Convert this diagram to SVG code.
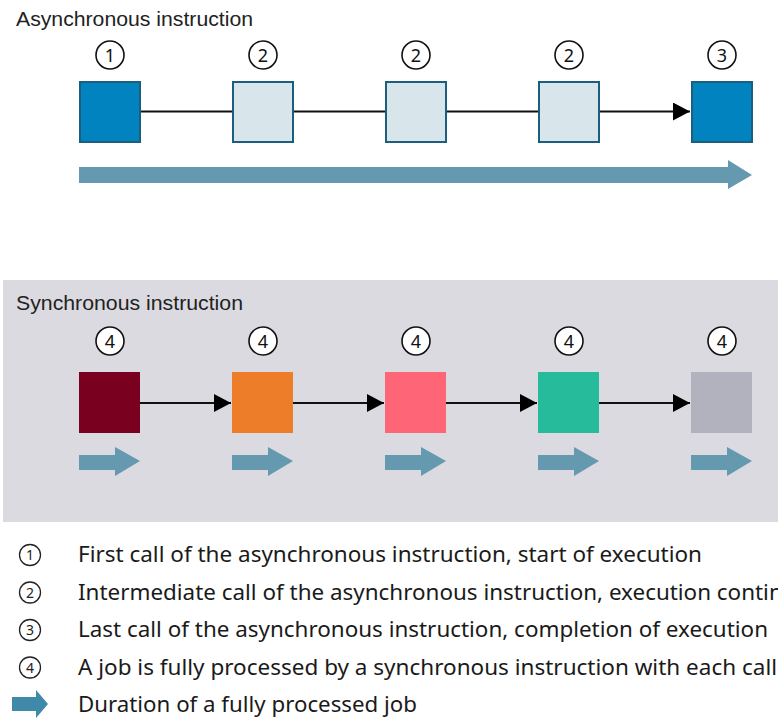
<svg xmlns="http://www.w3.org/2000/svg" width="778" height="718" viewBox="0 0 778 718">
<style>
.title{font-family:"Liberation Sans",Arial,sans-serif;font-size:19.5px;fill:#222}
.num{font-family:"Noto Sans","Open Sans",sans-serif;font-size:18px;fill:#111;text-anchor:middle}
.ncirc{fill:#fff;stroke:#111;stroke-width:1.6}
.lnum{fill:#fff;stroke:#222;stroke-width:1.3}
.lnumt{font-family:"Noto Sans","Open Sans",sans-serif;font-size:14px;fill:#222;text-anchor:middle}
.leg{font-family:"Noto Sans","Open Sans",sans-serif;font-size:21px;fill:#1a1a1a}
.conn{stroke:#111;stroke-width:2;fill:none}
.dark{fill:#0083bf;stroke:#1b5e7e;stroke-width:2}
.light{fill:#d8e5eb;stroke:#1b5e7e;stroke-width:2}
.dur{fill:#6499b0}
</style>
<defs>
<marker id="ah" markerWidth="17" markerHeight="18" refX="17" refY="9" orient="auto" markerUnits="userSpaceOnUse">
<path d="M0,0 L17,9 L0,18 Z" fill="#000"/>
</marker>
</defs>
<rect x="0" y="0" width="778" height="718" fill="#fff"/>
<rect id="sync-panel" x="3" y="280" width="775" height="242" fill="#dadae0"/>

<text class="title" x="16" y="26" textLength="237" lengthAdjust="spacingAndGlyphs">Asynchronous instruction</text>
<text class="title" x="16" y="310" textLength="227" lengthAdjust="spacingAndGlyphs">Synchronous instruction</text>

<g id="connectors">
<line class="conn" x1="140" y1="111.5" x2="232" y2="111.5"/>
<line class="conn" x1="293" y1="111.5" x2="385" y2="111.5"/>
<line class="conn" x1="446" y1="111.5" x2="538" y2="111.5"/>
<line class="conn" x1="599" y1="111.5" x2="690" y2="111.5" marker-end="url(#ah)"/>
<line class="conn" x1="140" y1="403" x2="231" y2="403" marker-end="url(#ah)"/>
<line class="conn" x1="293" y1="403" x2="384" y2="403" marker-end="url(#ah)"/>
<line class="conn" x1="446" y1="403" x2="537" y2="403" marker-end="url(#ah)"/>
<line class="conn" x1="599" y1="403" x2="690" y2="403" marker-end="url(#ah)"/>
</g>

<g id="a1"><circle class="ncirc" cx="110" cy="55" r="14"/><text class="num" x="110" y="61.5">1</text><rect class="dark" x="80" y="82" width="60" height="60"/></g>
<g id="a2"><circle class="ncirc" cx="263" cy="55" r="14"/><text class="num" x="263" y="61.5">2</text><rect class="light" x="233" y="82" width="60" height="60"/></g>
<g id="a3"><circle class="ncirc" cx="416" cy="55" r="14"/><text class="num" x="416" y="61.5">2</text><rect class="light" x="386" y="82" width="60" height="60"/></g>
<g id="a4"><circle class="ncirc" cx="569" cy="55" r="14"/><text class="num" x="569" y="61.5">2</text><rect class="light" x="539" y="82" width="60" height="60"/></g>
<g id="a5"><circle class="ncirc" cx="722" cy="55" r="14"/><text class="num" x="722" y="61.5">3</text><rect class="dark" x="692" y="82" width="60" height="60"/></g>
<g id="async-duration"><path class="dur" d="M79,167 H728 V160 L752,175 L728,189 V183 H79 Z"/></g>

<g id="s1"><circle class="ncirc" cx="110" cy="341" r="14"/><text class="num" x="110" y="347.5">4</text><rect x="79" y="372" width="61" height="61" fill="#7a0020"/><path class="dur" d="M79,455 H115 V447 L140,461 L115,476 V470 H79 Z"/></g>
<g id="s2"><circle class="ncirc" cx="263" cy="341" r="14"/><text class="num" x="263" y="347.5">4</text><rect x="232" y="372" width="61" height="61" fill="#ee7d2a"/><path class="dur" d="M232,455 H268 V447 L293,461 L268,476 V470 H232 Z"/></g>
<g id="s3"><circle class="ncirc" cx="416" cy="341" r="14"/><text class="num" x="416" y="347.5">4</text><rect x="385" y="372" width="61" height="61" fill="#fe6677"/><path class="dur" d="M385,455 H421 V447 L446,461 L421,476 V470 H385 Z"/></g>
<g id="s4"><circle class="ncirc" cx="569" cy="341" r="14"/><text class="num" x="569" y="347.5">4</text><rect x="538" y="372" width="61" height="61" fill="#25bb9b"/><path class="dur" d="M538,455 H574 V447 L599,461 L574,476 V470 H538 Z"/></g>
<g id="s5"><circle class="ncirc" cx="722" cy="341" r="14"/><text class="num" x="722" y="347.5">4</text><rect x="691" y="372" width="61" height="61" fill="#b2b2be"/><path class="dur" d="M691,455 H727 V447 L752,461 L727,476 V470 H691 Z"/></g>

<g id="legend">
<circle class="lnum" cx="30" cy="555" r="10.5"/><text class="lnumt" x="30" y="560">1</text>
<text class="leg" x="78" y="562" textLength="624" lengthAdjust="spacingAndGlyphs">First call of the asynchronous instruction, start of execution</text>
<circle class="lnum" cx="30" cy="592.5" r="10.5"/><text class="lnumt" x="30" y="597.5">2</text>
<text class="leg" x="78" y="600" textLength="742" lengthAdjust="spacingAndGlyphs">Intermediate call of the asynchronous instruction, execution continues</text>
<circle class="lnum" cx="30" cy="630" r="10.5"/><text class="lnumt" x="30" y="635">3</text>
<text class="leg" x="78" y="637" textLength="690" lengthAdjust="spacingAndGlyphs">Last call of the asynchronous instruction, completion of execution</text>
<circle class="lnum" cx="30" cy="667.5" r="10.5"/><text class="lnumt" x="30" y="672.5">4</text>
<text class="leg" x="78" y="675" textLength="699" lengthAdjust="spacingAndGlyphs">A job is fully processed by a synchronous instruction with each call</text>
<path d="M12,697 H36 V690 L48,704 L36,718 V711 H12 Z" fill="#3e8aa8"/>
<text class="leg" x="78" y="712" textLength="339" lengthAdjust="spacingAndGlyphs">Duration of a fully processed job</text>
</g>
</svg>
